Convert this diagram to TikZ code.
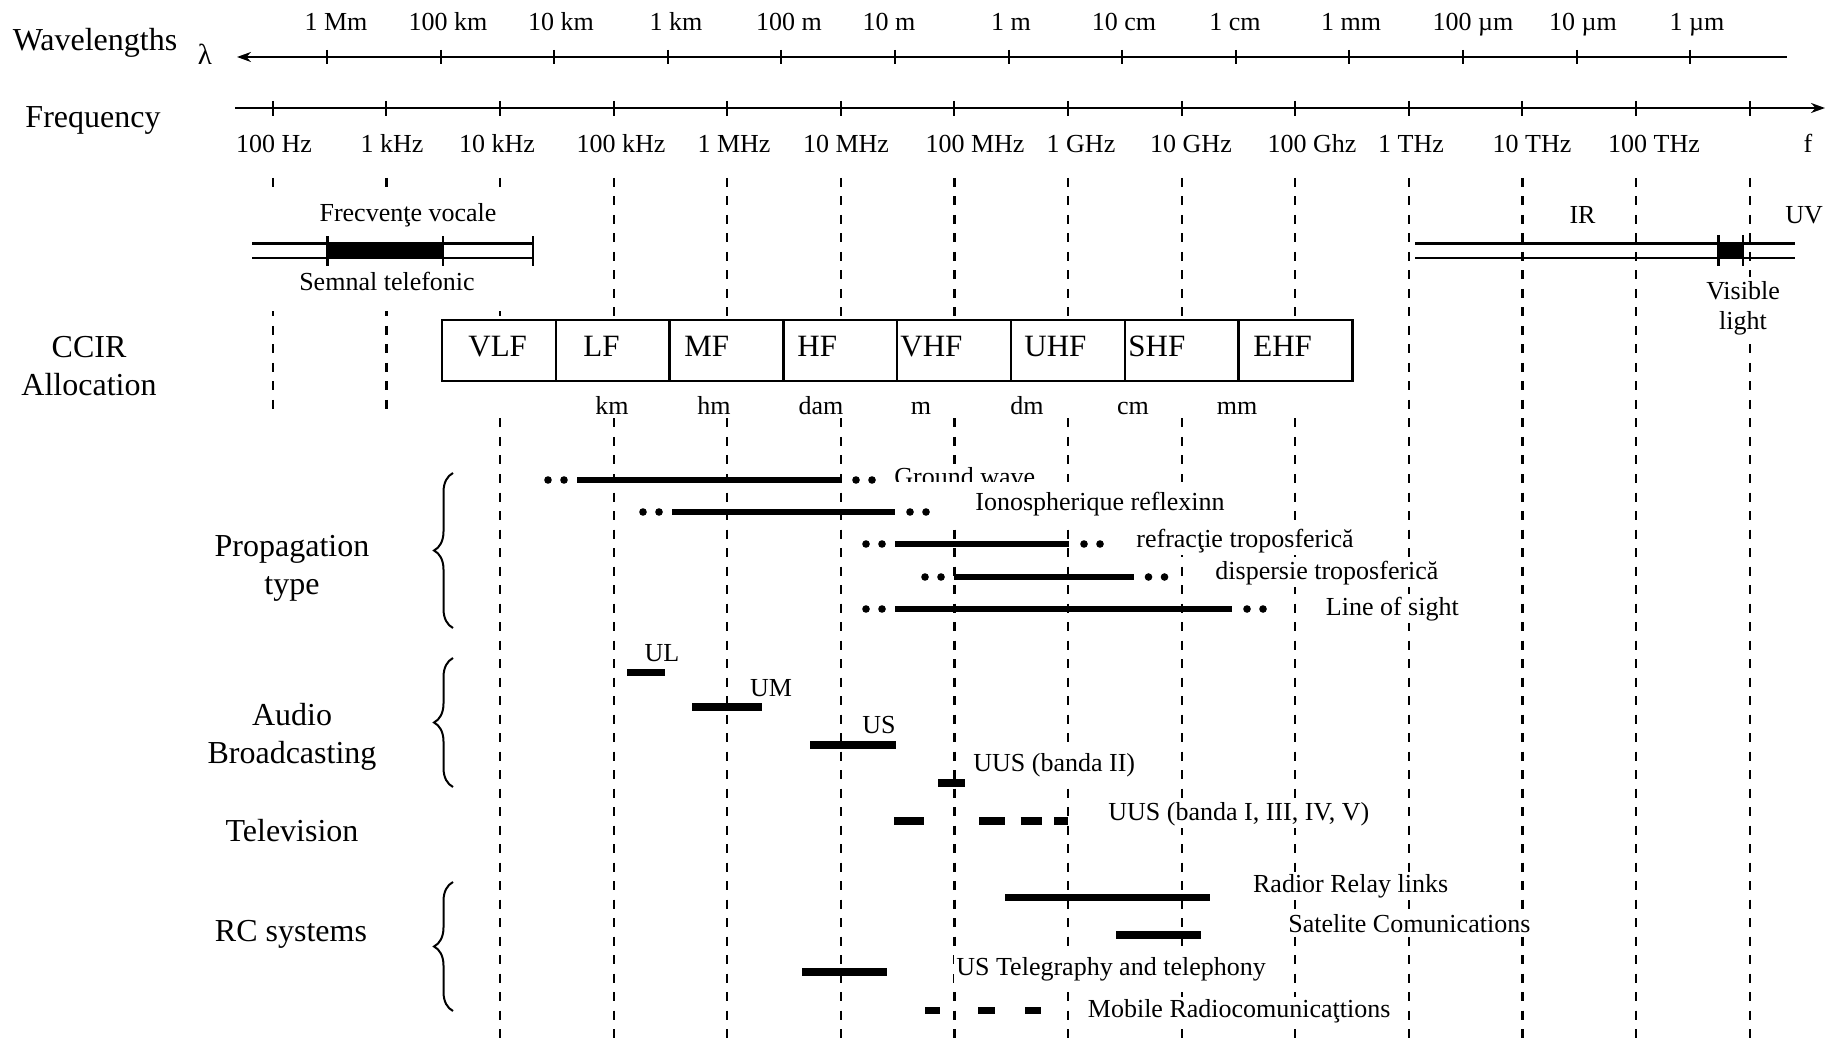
\documentclass[tikz,border=0pt]{standalone}
\usepackage{fontspec}
\setmainfont{Liberation Serif}
\usetikzlibrary{arrows.meta,decorations.pathreplacing}

\begin{document}
\begin{tikzpicture}[x=0.5pt,y=-0.5pt,
  axis/.style={line width=1.1pt},
  grid/.style={line width=1.1pt,dash pattern=on 4.5pt off 4.75pt},
  band/.style={line width=1.2pt},
  prop/.style={line width=3pt},
  bar/.style={line width=3.75pt},
  small/.style={font=\fontsize{13}{15}\selectfont},
  big/.style={font=\fontsize{16}{19}\selectfont,align=center},
  lbl/.style={small,fill=white,inner sep=1pt,anchor=base west},
  brc/.style={line width=1pt,decorate,decoration={brace,amplitude=9.5pt}}]
\useasboundingbox (0,0) rectangle (1829,1047);

% vertical guide lines, one per decade
\foreach \k in {0,1}
  \draw[grid] (272.8+113.6*\k,178) -- (272.8+113.6*\k,418);
\foreach \k in {2,...,13}
  \draw[grid] (272.8+113.6*\k,178) -- (272.8+113.6*\k,1047);
\fill[white] (245,188) rectangle (545,311.5);
\fill[white] (442,381) rectangle (1353,418);

% the two scales
\draw[axis,{Stealth[length=7pt,width=5pt]}-] (237,57) -- (1787,57);
\draw[axis,-{Stealth[length=7pt,width=5pt]}] (235,108) -- (1825,108);
\foreach \k in {0,...,12}
  \draw[line width=1pt] (327+113.6*\k,50) -- (327+113.6*\k,64);
\foreach \k in {0,...,13}
  \draw[line width=1pt] (272.8+113.6*\k,101) -- (272.8+113.6*\k,116);
\foreach \x/\t [count=\i] in {336/1 Mm,448/100 km,561/10 km,676/1 km,789/100 m,889/10 m,
    1011/1 m,1124/10 cm,1235/1 cm,1351/1 mm,1473/100 µm,1583/10 µm,1697/1 µm}
  \node[small,anchor=base] (wl\i) at (\x,31) {\t};
\foreach \x/\t [count=\i] in {274/100 Hz,392/1 kHz,497/10 kHz,621/100 kHz,734/1 MHz,846/10 MHz,
    975/100 MHz,1081/1 GHz,1191/10 GHz,1312/100 Ghz,1411/1 THz,1532/10 THz,1654/100 THz,1808/f}
  \node[small,anchor=base] (fq\i) at (\x,153) {\t};
\node[big,anchor=base] (wave) at (95,50.5) {Wavelengths};
\node[font=\fontsize{14.5}{17}\selectfont,anchor=base] (lam) at (205,65) {λ};
\node[big,anchor=base] (freq) at (93,127.5) {Frequency};

% voice band
\draw[band] (252,243.5) -- (532.7,243.5) (252,258.3) -- (532.7,258.3);
\fill (327.4,243.5) rectangle (443,258.3);
\foreach \x in {327.4,443,532.7}
  \draw[band] (\x,236.5) -- (\x,266.5);
\node[small,anchor=base] (voc) at (408,222) {Frecvenţe vocale};
\node[small,anchor=base] (tel) at (387,291) {Semnal telefonic};

% optical band
\draw[band] (1415,243.5) -- (1795,243.5) (1415,258.3) -- (1795,258.3);
\fill (1718.3,243.5) rectangle (1742.7,258.3);
\foreach \x in {1718.3,1742.7}
  \draw[band] (\x,235) -- (\x,266.5);
\node[small,anchor=base] (ir) at (1582.5,224) {IR};
\node[small,anchor=base] (uv) at (1804,224) {UV};
\node[small,align=center,fill=white,inner sep=2pt] (vis) at (1743,308) {Visible\\light};

% CCIR bands
\node[big] (ccir) at (89,366) {CCIR\\Allocation};
\draw[band,fill=white] (442,320) rectangle (1352.4,381);
\foreach \i in {1,...,7}
  \draw[band] (442+113.8*\i,320) -- (442+113.8*\i,381);
\foreach \x/\t [count=\i] in {468/VLF,583/LF,684/MF,797/HF,900/VHF,1024/UHF,1128/SHF,1253/EHF}
  \node[font=\fontsize{15.5}{18}\selectfont,anchor=base west,inner sep=0pt] (cell\i) at (\x,356.5) {\t};
\foreach \x/\t [count=\i] in {612/km,714/hm,821/dam,921/m,1027/dm,1133/cm,1237/mm}
  \node[small,anchor=base] (unit\i) at (\x,415) {\t};

% propagation
\node[big] (prop) at (292,568.7) {Propagation\\type};
\draw[brc] (453,628) -- (453,473);
\foreach \y/\a/\b in {480/577/841,512/672/895,544/895/1069,577/954/1133.5,609/895/1232}{
  \draw[prop] (\a,\y) -- (\b,\y);
  \foreach \d in {29,13} \fill (\a-\d,\y) circle (1.9pt);
  \foreach \d in {15,31} \fill (\b+\d,\y) circle (1.9pt);
}
\begin{scope}
\clip (880,440) rectangle (1045,481.7);
\node[lbl] (ground) at (892,485.5) {Ground wave};
\end{scope}
\node[lbl,inner xsep=17pt,inner ysep=5pt] (iono) at (941,510.5) {Ionospherique reflexinn};
\node[lbl] (refr) at (1134,547) {refracţie troposferică};
\node[lbl] (disp) at (1213,579) {dispersie troposferică};
\node[lbl] (los) at (1323.5,615) {Line of sight};

% broadcasting
\node[big] (audio) at (292,737.3) {Audio\\Broadcasting};
\draw[brc] (453,787) -- (453,658);
\foreach \a/\b/\y in {627/665.4/672.7,692/762/707,810/896/745,938/965/783}
  \draw[bar] (\a,\y) -- (\b,\y);
\node[lbl,anchor=base] (ul) at (662,661) {UL};
\node[lbl,anchor=base] (um) at (771,696) {UM};
\node[lbl,anchor=base] (us) at (879,733) {US};
\node[lbl] (uus) at (971,771) {UUS (banda II)};

% television
\node[big,anchor=base] (tvh) at (292,841) {Television};
\foreach \a/\b in {894/924,979/1004.6,1020.6/1041.6,1054.4/1068.4}
  \draw[bar] (\a,821) -- (\b,821);
\node[lbl] (tv) at (1106,820) {UUS (banda I, III, IV, V)};

% radio links
\node[big,anchor=base] (rc) at (291,941) {RC systems};
\draw[brc] (453,1011) -- (453,882);
\foreach \a/\b/\y in {1005.4/1210/897.3,1116/1201/935,802/887/972}
  \draw[bar] (\a,\y) -- (\b,\y);
\foreach \a/\b in {925/940,978/995,1025/1041}
  \draw[bar] (\a,1010.5) -- (\b,1010.5);
\node[lbl] (relay) at (1250.7,892) {Radior Relay links};
\node[lbl] (sat) at (1286,932) {Satelite Comunications};
\node[lbl] (telg) at (954,975) {US Telegraphy and telephony};
\node[lbl] (mob) at (1085.5,1017) {Mobile Radiocomunicaţtions};
\end{tikzpicture}
\end{document}
